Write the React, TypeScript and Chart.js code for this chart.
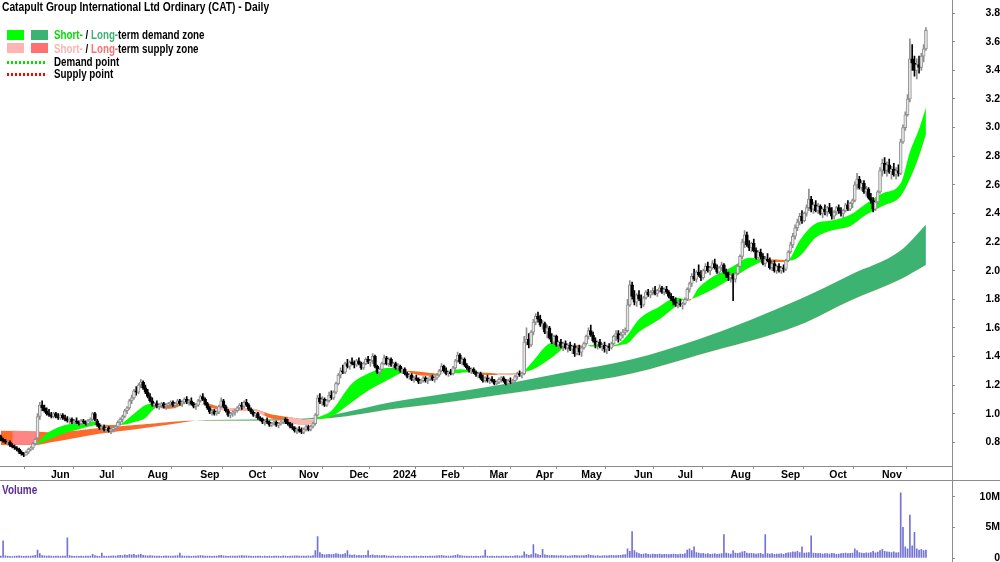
import React, { useEffect, useRef } from 'react';
import { Chart, registerables } from 'chart.js';

Chart.register(...registerables);

// [open, high, low, close] in cents, volume in 10k shares
type Bar = [number, number, number, number, number];
type Pt = [number, number | null];

const may2023: Bar[] = [[84,85,81,82,30],[82,83,80,81,280],[81,82,79,80,35],[80,81,78,80,30],[80,81,77,78,28],[78,79,76,77,25],[77,78,75,76,30],[76,77,74,75,32],[75,76,72,73,35],[73,74,71,72,30],[72,73,70,71,28],[71,74,71,73,30],[73,76,72,75,33],[75,77,74,76,30],[76,80,75,79,35],[79,83,78,82,45],[83,100,82,98,130],[98,108,96,106,70],[106,109,102,104,40],[104,106,101,102,35],[102,104,99,100,30]];
const jun2023: Bar[] = [[100,103,98,99,35],[99,101,97,98,30],[98,101,97,100,28],[100,101,97,98,32],[98,100,96,97,30],[97,100,96,99,28],[99,100,96,97,30],[97,99,95,96,33],[96,98,94,95,330],[95,97,93,96,40],[96,97,93,94,30],[94,96,93,95,28],[95,97,93,94,30],[94,95,92,93,27],[93,96,92,95,30],[95,96,93,94,28],[94,95,92,93,32],[93,96,92,95,30],[95,97,94,96,33],[96,101,95,100,60],[100,101,95,96,40]];
const jul2023: Bar[] = [[95,96,91,92,30],[92,93,89,90,28],[90,92,88,91,80],[91,92,88,89,30],[89,91,87,90,28],[90,91,87,88,30],[88,90,86,89,32],[89,91,87,90,35],[90,92,88,91,30],[91,95,90,94,40],[94,97,92,96,45],[96,99,94,98,40],[98,103,97,102,50],[102,105,100,104,45],[104,110,103,109,55],[109,113,107,111,50],[111,117,110,116,60],[116,119,113,115,45],[115,121,114,120,50],[120,124,118,122,60],[122,123,117,118,45]];
const aug2023: Bar[] = [[118,120,114,115,40],[115,117,111,112,35],[112,114,108,109,38],[109,111,105,106,35],[106,108,104,107,30],[107,109,104,105,32],[105,107,103,106,30],[106,108,104,107,28],[107,108,104,105,30],[105,107,103,106,35],[106,108,104,107,30],[107,109,105,108,33],[108,109,105,106,30],[106,108,104,107,35],[107,110,106,109,40],[109,110,106,107,80],[107,109,105,108,35],[108,111,107,110,30],[110,112,107,108,33],[108,110,106,109,30],[109,111,106,107,28],[107,108,104,105,30],[105,107,103,106,32]];
const sep2023: Bar[] = [[106,110,105,109,35],[109,113,108,112,40],[112,114,109,110,35],[110,111,106,107,30],[107,108,103,104,33],[104,105,100,101,30],[101,103,99,102,28],[102,103,99,100,30],[100,102,99,101,32],[101,106,100,105,38],[105,111,104,109,45],[109,110,104,105,35],[105,106,101,102,30],[102,103,98,99,28],[99,101,97,100,30],[100,102,98,101,32],[101,103,99,102,30],[102,105,101,104,33],[104,107,103,106,35],[106,108,103,105,40],[105,109,104,108,35]];
const oct2023: Bar[] = [[108,110,105,106,35],[106,107,102,103,30],[103,104,100,101,33],[101,102,98,99,28],[99,101,97,100,30],[100,101,96,97,32],[97,98,95,96,30],[96,97,93,94,28],[94,96,92,95,30],[95,97,93,94,27],[94,95,91,92,30],[92,94,91,93,28],[93,95,92,94,30],[94,95,91,92,33],[92,94,90,93,30],[93,95,92,94,28],[94,97,93,96,35],[96,97,93,94,30],[94,96,92,93,28],[93,94,90,91,30],[91,93,89,90,33],[90,91,87,88,35]];
const nov2023: Bar[] = [[88,90,86,89,35],[89,91,87,88,30],[88,90,86,87,33],[87,90,86,89,30],[89,92,88,91,32],[91,92,88,89,35],[89,92,88,91,33],[91,94,90,93,40],[93,100,92,99,120],[99,113,98,111,350],[111,114,107,108,90],[108,112,106,110,60],[110,111,105,106,50],[106,110,105,109,55],[109,115,108,113,60],[113,116,110,111,55],[111,116,110,115,60],[115,122,114,121,70],[121,128,120,127,65],[127,132,125,130,55],[130,134,128,129,60],[129,136,128,135,70]];
const dec2023: Bar[] = [[135,138,132,133,120],[133,137,131,136,50],[136,139,134,135,45],[135,137,132,134,50],[134,138,133,137,40],[137,139,134,135,45],[135,136,131,132,40],[132,136,131,135,42],[135,139,134,138,45],[138,140,135,136,120],[136,138,133,137,45],[137,142,135,140,50],[140,141,132,133,40],[133,134,128,129,45],[129,132,126,131,38],[131,136,130,135,40],[135,141,134,139,45],[139,140,134,135,35],[135,139,133,138,30]];
const jan2024: Bar[] = [[138,139,133,134,30],[134,136,131,135,35],[135,136,131,132,28],[132,135,130,133,30],[133,134,129,130,32],[130,132,128,131,28],[131,132,127,128,30],[128,129,125,126,27],[126,128,124,127,30],[127,128,123,124,28],[124,126,122,125,33],[125,127,123,124,30],[124,125,121,122,28],[122,124,121,123,30],[123,126,122,125,27],[125,126,122,123,30],[123,125,121,124,28],[124,127,123,126,30],[126,127,123,124,32],[124,126,122,125,30],[125,128,124,127,35]];
const feb2024: Bar[] = [[127,131,126,130,40],[130,135,129,133,45],[133,134,129,130,35],[130,132,127,128,33],[128,130,126,129,30],[129,131,127,128,32],[128,133,127,132,35],[132,138,131,137,45],[137,143,136,141,55],[141,142,135,136,40],[136,139,134,138,35],[138,139,133,134,33],[134,135,131,132,30],[132,133,129,130,28],[130,132,128,131,30],[131,132,128,129,27],[129,130,126,127,30],[127,129,125,128,28],[128,129,124,125,32],[125,127,122,123,35],[123,126,122,125,130]];
const mar2024: Bar[] = [[125,127,122,123,30],[123,125,121,124,28],[124,126,122,123,30],[123,124,120,121,27],[121,123,120,122,30],[122,125,121,124,28],[124,126,122,125,30],[125,126,122,123,33],[123,124,120,121,30],[121,124,120,123,28],[123,125,121,122,30],[122,124,121,123,27],[123,127,122,126,35],[126,129,124,128,40],[128,130,126,127,33],[127,129,125,128,35],[128,154,127,150,100],[150,160,148,152,60],[152,156,146,148,45],[148,158,147,157,55]];
const apr2024: Bar[] = [[157,166,155,164,220],[164,170,162,168,70],[168,171,164,166,55],[166,169,161,162,45],[162,165,159,163,140],[163,164,156,157,50],[157,162,153,160,45],[160,161,152,153,40],[153,156,149,150,45],[150,155,148,154,38],[154,155,147,148,40],[148,151,145,150,35],[150,152,146,147,38],[147,150,144,149,35],[149,151,145,146,40],[146,149,143,148,33],[148,150,144,145,35],[145,148,142,147,38],[147,149,140,142,45],[142,147,141,146,40]];
const may2024: Bar[] = [[146,148,141,143,35],[143,147,140,146,38],[146,150,145,149,40],[149,155,148,154,45],[154,160,152,158,55],[158,162,154,155,45],[155,157,150,151,40],[151,153,146,148,35],[148,151,145,150,38],[150,152,146,147,33],[147,149,144,148,35],[148,150,143,145,38],[145,148,142,147,35],[147,149,144,146,40],[146,150,145,149,45],[149,155,148,154,40],[154,158,151,156,38],[156,158,150,152,42],[152,157,151,155,45],[155,159,153,157,50],[157,160,155,158,55],[158,180,157,176,150],[176,193,175,190,110]];
const jun2024: Bar[] = [[190,192,180,182,430],[182,186,176,178,120],[178,184,175,183,90],[183,186,179,180,70],[180,183,174,176,60],[176,182,175,181,65],[181,186,180,185,70],[185,187,182,183,60],[183,186,181,185,55],[185,188,183,186,65],[186,189,183,184,60],[184,187,182,186,58],[186,190,185,188,62],[188,189,184,185,55],[185,188,183,187,60],[187,189,184,185,58],[185,186,181,182,55],[182,184,179,180,60],[180,182,176,178,65]];
const jul2024: Bar[] = [[178,181,175,176,60],[176,179,174,177,55],[177,180,175,176,65],[176,178,173,177,60],[177,181,176,180,70],[180,188,179,187,130],[187,192,185,191,150],[191,198,189,196,120],[196,201,193,194,180],[194,200,192,199,90],[199,204,196,197,80],[197,200,193,195,70],[195,201,194,200,75],[200,205,198,203,65],[203,206,199,200,70],[200,203,197,202,60],[202,207,201,205,65],[205,208,201,202,70],[202,204,198,199,60],[199,203,197,202,65],[202,206,200,204,70],[204,205,198,199,380],[199,201,195,197,80]];
const aug2024: Bar[] = [[197,199,193,195,70],[195,198,192,197,65],[197,198,179,194,120],[194,199,192,198,80],[198,204,197,203,75],[203,211,202,210,85],[210,222,208,220,100],[220,228,216,225,110],[225,227,217,218,80],[218,221,214,216,70],[216,220,213,219,75],[219,222,213,214,70],[214,216,208,209,65],[209,214,207,213,70],[213,215,208,210,75],[210,212,204,205,60],[205,210,203,208,380],[208,212,206,207,70],[207,209,201,202,65],[202,206,200,205,70],[205,207,199,200,60],[200,204,198,203,65]];
const sep2024: Bar[] = [[203,205,199,200,65],[200,203,198,202,70],[202,204,199,201,60],[201,208,200,207,75],[207,214,206,213,85],[213,220,212,218,90],[218,226,216,224,100],[224,232,222,230,95],[230,236,228,234,110],[234,240,232,238,90],[238,242,233,235,180],[235,241,234,240,80],[240,246,238,244,85],[244,257,242,250,90],[250,252,241,243,360],[243,248,240,246,80],[246,249,241,242,75],[242,247,240,245,70],[245,246,239,240,75],[240,244,237,243,65],[243,246,239,241,70]];
const oct2024: Bar[] = [[241,245,238,244,70],[244,247,240,241,65],[241,244,236,238,75],[238,242,236,241,70],[241,245,239,244,60],[244,246,240,242,65],[242,244,238,240,70],[240,243,237,242,75],[242,247,241,246,80],[246,249,242,243,70],[243,248,242,247,75],[247,250,244,249,80],[249,262,248,260,150],[260,268,257,264,120],[264,266,257,258,90],[258,263,256,261,80],[261,263,254,255,75],[255,259,252,257,85],[257,258,250,251,80],[251,254,247,249,90],[249,251,241,243,110],[243,250,242,248,85],[248,256,247,255,95]];
const nov2024: Bar[] = [[255,272,254,270,120],[270,278,266,275,140],[275,279,268,270,110],[270,276,266,274,100],[274,278,268,269,95],[269,273,264,271,90],[271,275,266,267,100],[267,272,264,270,85],[270,274,266,268,90],[268,292,267,290,1060],[290,302,289,300,500],[300,311,298,309,180],[309,323,308,320,150],[320,362,318,348,700],[348,358,340,345,200],[345,350,336,340,420],[340,348,334,344,150],[344,350,338,342,130],[342,352,340,350,140],[350,358,346,355,120],[355,370,354,368,130]];

const monthBlocks: Bar[][] = [may2023, jun2023, jul2023, aug2023, sep2023, oct2023, nov2023, dec2023, jan2024, feb2024, mar2024, apr2024, may2024, jun2024, jul2024, aug2024, sep2024, oct2024, nov2024];
const monthLabels = ['Jun', 'Jul', 'Aug', 'Sep', 'Oct', 'Nov', 'Dec', '2024', 'Feb', 'Mar', 'Apr', 'May', 'Jun', 'Jul', 'Aug', 'Sep', 'Oct', 'Nov'];
const volumeTicks = [0, 5, 10]; // millions

// zone edges: [bar index, price]
const ltFast: Pt[] = [[0,.78],[15,.78],[22,.80],[43,.86],[58,.89],[72,.92],[82,.945],[90,.955],[130,.965],[138,.975],[150,1.01],[170,1.08],[190,1.13],[217,1.20],[246,1.29],[275,1.38],[304,1.52],[348,1.80],[370,1.97],[392,2.14],[403,2.32]];
const ltSlow: Pt[] = [[0,.88],[15,.875],[22,.87],[43,.90],[58,.92],[72,.94],[82,.95],[90,.95],[130,.955],[138,.962],[150,.98],[170,1.03],[190,1.07],[217,1.13],[246,1.20],[275,1.28],[304,1.41],[348,1.62],[370,1.79],[392,1.94],[403,2.04]];
const startPatchTop: Pt[] = [[5,.88],[16,.875]];
const startPatchBottom: Pt[] = [[5,.78],[16,.785]];
const stFast: Pt[] = [[15,.78],[20,.86],[26,.91],[33,.935],[40,.945],[44,.925],[48,.905],[52,.925],[58,1.00],[63,1.06],[66,1.07],[68,1.055],[71,1.035],[76,1.04],[79,1.058],[84,1.065],[88,1.062],[90,1.05],[94,1.03],[100,1.02],[110,1.02],[117,.97],[124,.95],[130,.925],[135,.93],[138,.97],[144,1.02],[153,1.21],[160,1.28],[168,1.32],[174,1.32],[177,1.295],[185,1.265],[191,1.27],[194,1.29],[200,1.31],[204,1.30],[206,1.285],[214,1.27],[218,1.27],[226,1.28],[228,1.30],[232,1.37],[239,1.49],[243,1.50],[246,1.48],[250,1.465],[255,1.47],[257,1.48],[265,1.475],[270,1.50],[273,1.55],[278,1.66],[287,1.75],[294,1.81],[298,1.80],[300,1.79],[304,1.88],[319,2.03],[326,2.09],[333,2.07],[335,2.06],[342,2.06],[344,2.09],[348,2.21],[355,2.33],[362,2.35],[370,2.39],[377,2.47],[384,2.54],[392,2.61],[396,2.83],[400,2.99],[403,3.14]];
const stSlow: Pt[] = [[15,.78],[20,.81],[26,.85],[33,.885],[40,.915],[44,.925],[48,.92],[52,.92],[58,.94],[63,.97],[66,1.02],[68,1.05],[71,1.065],[76,1.065],[79,1.062],[84,1.062],[88,1.065],[90,1.07],[94,1.055],[100,1.04],[110,1.035],[117,1.00],[124,.98],[130,.965],[135,.955],[138,.96],[144,.98],[153,1.08],[160,1.16],[168,1.23],[174,1.28],[177,1.30],[185,1.29],[191,1.28],[194,1.28],[200,1.285],[204,1.29],[206,1.29],[214,1.285],[218,1.28],[226,1.285],[228,1.29],[232,1.31],[239,1.38],[243,1.43],[246,1.47],[250,1.48],[255,1.475],[257,1.47],[265,1.465],[270,1.48],[273,1.49],[278,1.57],[287,1.66],[294,1.75],[298,1.80],[300,1.80],[304,1.82],[319,1.95],[326,2.02],[333,2.07],[335,2.08],[342,2.075],[344,2.07],[348,2.10],[355,2.23],[362,2.28],[370,2.31],[377,2.39],[384,2.45],[392,2.52],[396,2.64],[400,2.80],[403,2.95]];
const pinkFast: Pt[] = [[94,1.03],[100,1.02],[110,1.02],[115,.98],[120,null],[125,.948],[130,.925],[135,.93],[137,.955],[180,null],[216,1.27],[218,1.27],[226,1.28],[227,1.29]];
const pinkSlow: Pt[] = [[94,1.055],[100,1.04],[110,1.035],[115,1.008],[120,null],[125,.978],[130,.965],[135,.955],[137,.958],[180,null],[216,1.283],[218,1.28],[226,1.285],[227,1.29]];

const FONT_FAMILY = "'Liberation Sans', Arial, Helvetica, sans-serif";
const AXIS = '#8c8c8c';
const X_MIN = -0.35;
const X_MAX = 414.35;
const P_MIN = 0.634;
const P_MAX = 3.848;
const V_MAX = 11.52;

const candles: Bar[] = monthBlocks.flat();
const monthStarts: number[] = [];
{
  let acc = 0;
  monthBlocks.forEach((m, k) => {
    if (k > 0) monthStarts.push(acc);
    acc += m.length;
  });
}

const toXY = (pts: Pt[]) => pts.map(([x, y]) => ({ x, y }));
const isUp = (c: Bar) => c[3] >= c[0];

const tickFont = { family: FONT_FAMILY, size: 10.5, weight: 'bold' as const };

const framePlugin = {
  id: 'frame',
  afterDraw(chart: any, _args: any, opts: any) {
    const { ctx, chartArea, width, height } = chart;
    ctx.save();
    ctx.fillStyle = AXIS;
    ctx.fillRect(Math.round(chartArea.right), 0, 1, height);
    if (opts && opts.bottomLine) ctx.fillRect(0, height - 1, width, 1);
    ctx.restore();
  },
};

function zoneLine(pts: Pt[], order: number, fill: any = false) {
  return {
    type: 'line' as const,
    data: toXY(pts),
    borderWidth: 0,
    borderColor: 'rgba(0,0,0,0)',
    pointRadius: 0,
    cubicInterpolationMode: 'monotone' as const,
    spanGaps: false,
    fill,
    order,
  };
}

function priceConfig(): any {
  return {
    type: 'bar',
    data: {
      datasets: [
        zoneLine(ltSlow, 10),
        zoneLine(ltFast, 10, { target: 0, above: '#3CB371', below: '#FF6A2B' }),
        zoneLine(startPatchBottom, 9),
        zoneLine(startPatchTop, 9, { target: 2, above: '#FF8585', below: '#FF8585' }),
        zoneLine(stSlow, 8),
        zoneLine(stFast, 8, { target: 4, above: '#00FF00', below: '#FF6A2B' }),
        zoneLine(pinkSlow, 7),
        zoneLine(pinkFast, 7, { target: 6, above: 'rgba(0,0,0,0)', below: '#FFB5B5' }),
        {
          type: 'bar',
          data: candles.map((c, i) => ({ x: i, y: [c[2] / 100, c[1] / 100] })),
          backgroundColor: candles.map((c) => (isUp(c) ? '#8e8e8e' : '#000000')),
          barThickness: 1,
          grouped: false,
          order: 1,
        },
        {
          type: 'bar',
          data: candles.map((c, i) => ({ x: i, y: [c[0] / 100, c[3] / 100] })),
          backgroundColor: candles.map((c) => (isUp(c) ? '#e6e6e6' : '#000000')),
          borderColor: candles.map((c) => (isUp(c) ? '#909090' : '#000000')),
          borderWidth: 1,
          borderSkipped: false,
          barThickness: 3,
          grouped: false,
          order: 0,
        },
      ],
    },
    options: {
      responsive: false,
      animation: false,
      events: [],
      layout: { padding: 0, autoPadding: false },
      plugins: { legend: { display: false }, tooltip: { enabled: false }, frame: { bottomLine: true } },
      scales: {
        x: {
          type: 'linear',
          min: X_MIN,
          max: X_MAX,
          offset: false,
          grid: { display: true, drawOnChartArea: false, drawTicks: true, tickLength: 3, color: AXIS },
          border: { display: true, color: AXIS },
          ticks: {
            autoSkip: false,
            maxRotation: 0,
            minRotation: 0,
            align: 'start',
            padding: 0,
            labelOffset: 2,
            font: tickFont,
            color: '#000',
            callback: (_v: number, i: number) => monthLabels[i],
          },
          afterBuildTicks: (s: any) => {
            s.ticks = monthStarts.map((v) => ({ value: v }));
          },
          afterFit: (s: any) => {
            s.height = 15;
          },
        },
        y: {
          type: 'linear',
          position: 'right',
          min: P_MIN,
          max: P_MAX,
          grid: { display: true, drawOnChartArea: false, drawTicks: true, tickLength: 31, tickBorderDash: [3, 200], color: AXIS },
          border: { display: false },
          ticks: {
            stepSize: 0.2,
            includeBounds: false,
            crossAlign: 'far',
            padding: 0,
            font: tickFont,
            color: '#000',
            callback: (v: number) => Number(v).toFixed(1),
          },
          afterFit: (s: any) => {
            s.width = 48;
          },
        },
      },
    },
    plugins: [framePlugin],
  };
}

function volConfig(): any {
  return {
    type: 'bar',
    data: {
      datasets: [
        {
          data: candles.map((c, i) => ({ x: i, y: c[4] / 100 })),
          backgroundColor: '#7373d6',
          barThickness: 1,
          grouped: false,
        },
      ],
    },
    options: {
      responsive: false,
      animation: false,
      events: [],
      layout: { padding: { top: 1, bottom: 17, left: 0, right: 0 }, autoPadding: false },
      plugins: { legend: { display: false }, tooltip: { enabled: false }, frame: { bottomLine: false } },
      scales: {
        x: { type: 'linear', min: X_MIN, max: X_MAX, offset: false, display: false },
        y: {
          type: 'linear',
          position: 'right',
          min: 0,
          max: V_MAX,
          grid: { display: true, drawOnChartArea: false, drawTicks: true, tickLength: 26, tickBorderDash: [3, 200], color: AXIS },
          border: { display: false },
          ticks: {
            crossAlign: 'far',
            padding: 0,
            font: tickFont,
            color: '#000',
            callback: (v: number) => (v === 0 ? '0' : `${v}M`),
          },
          afterBuildTicks: (s: any) => {
            s.ticks = volumeTicks.map((v) => ({ value: v }));
          },
          afterFit: (s: any) => {
            s.width = 48;
          },
        },
      },
    },
    plugins: [framePlugin],
  };
}

const textBase: React.CSSProperties = {
  position: 'absolute',
  fontFamily: FONT_FAMILY,
  fontWeight: 'bold',
  fontSize: 12,
  lineHeight: '14px',
  whiteSpace: 'nowrap',
  color: '#000',
  transform: 'scaleX(0.815)',
  transformOrigin: 'left center',
};

function Swatch({ left, top, color }: { left: number; top: number; color: string }) {
  return <div style={{ position: 'absolute', left, top, width: 17, height: 10, background: color }} />;
}

function Dots({ top, color }: { top: number; color: string }) {
  return (
    <div
      style={{
        position: 'absolute',
        left: 7,
        top,
        width: 40,
        height: 3,
        background: `repeating-linear-gradient(90deg, ${color} 0px, ${color} 2.5px, transparent 2.5px, transparent 4px)`,
      }}
    />
  );
}

export default function App() {
  const priceRef = useRef<HTMLCanvasElement>(null);
  const volRef = useRef<HTMLCanvasElement>(null);

  useEffect(() => {
    const p = new Chart(priceRef.current as HTMLCanvasElement, priceConfig());
    const v = new Chart(volRef.current as HTMLCanvasElement, volConfig());
    return () => {
      p.destroy();
      v.destroy();
    };
  }, []);

  return (
    <div style={{ position: 'fixed', left: 0, top: 0, width: 1000, height: 562, overflow: 'hidden', background: '#fff' }}>
      <canvas ref={priceRef} width={1000} height={481} style={{ position: 'absolute', left: 0, top: 0, display: 'block' }} />
      <canvas ref={volRef} width={1000} height={94} style={{ position: 'absolute', left: 0, top: 481, display: 'block' }} />
      <div style={{ ...textBase, left: 2, top: 0, transform: 'scaleX(0.855)' }}>Catapult Group International Ltd Ordinary (CAT) - Daily</div>
      <Swatch left={7} top={30} color="#00FF00" />
      <Swatch left={31} top={30} color="#3CB371" />
      <div style={{ ...textBase, left: 54, top: 28 }}>
        <span style={{ color: '#00DD00' }}>Short-</span> / <span style={{ color: '#3CB371' }}>Long-</span>term demand zone
      </div>
      <Swatch left={7} top={43} color="#FFB3B3" />
      <Swatch left={31} top={43} color="#FF7070" />
      <div style={{ ...textBase, left: 54, top: 42 }}>
        <span style={{ color: '#FFB3B3' }}>Short-</span> / <span style={{ color: '#FF7070' }}>Long-</span>term supply zone
      </div>
      <Dots top={61} color="#00E000" />
      <div style={{ ...textBase, left: 54, top: 55 }}>Demand point</div>
      <Dots top={73} color="#FF0000" />
      <div style={{ ...textBase, left: 54, top: 67 }}>Supply point</div>
      <div style={{ ...textBase, left: 2, top: 483, color: '#5B2D90', transform: 'scaleX(0.83)' }}>Volume</div>
    </div>
  );
}
